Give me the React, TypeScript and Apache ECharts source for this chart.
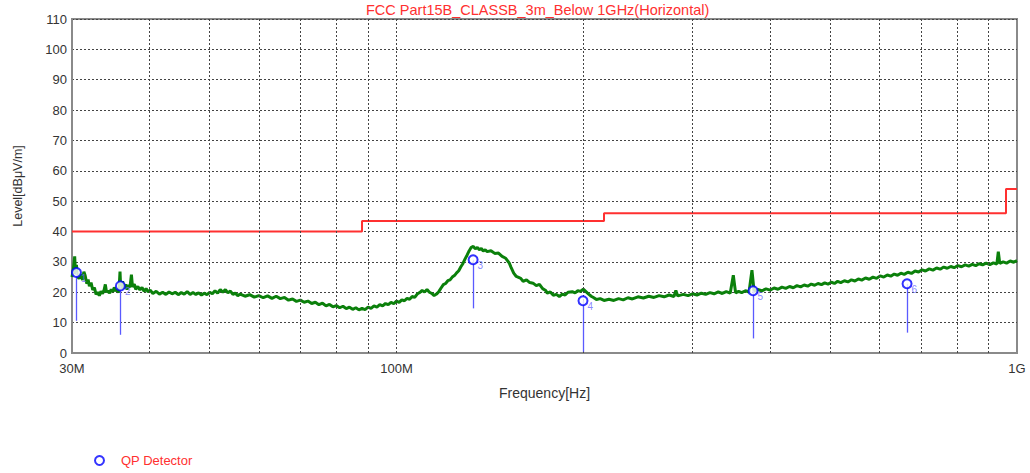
import React, { useEffect, useRef } from 'react';
import * as echarts from 'echarts';

const titleText = 'FCC Part15B_CLASSB_3m_Below 1GHz(Horizontal)';
const xAxisName = 'Frequency[Hz]';
const yAxisName = 'Level[dBμV/m]';
const legendName = 'QP Detector';
const xTickValues = [30, 100, 1000];
const xTickLabels = ['30M', '100M', '1G'];
const xGridValues = [40, 50, 60, 70, 80, 90, 100, 200, 300, 400, 500, 600, 700, 800, 900];

const limitLine = [
  [30, 40], [88, 40], [88, 43.5], [216, 43.5], [216, 46], [960, 46], [960, 54], [1000, 54],
];

const markerIds = ['1', '2', '3', '4', '5', '6'];
const markerFreq = [30.5, 35.9, 132.9, 199.8, 375.6, 665.0];
const markerLevel = [26.5, 22.1, 30.7, 17.2, 20.5, 22.8];
const markerStemLow = [10.6, 6.0, 14.7, 0.4, 4.8, 6.7];

const traceScan = [
  [30.0, 25.0], [30.15, 27.5], [30.3, 31.8], [30.4, 26.0], [30.5, 29.0], [30.6, 25.2], [30.8, 24.5], [31.0, 26.0],
  [31.2, 24.0], [31.35, 26.8], [31.5, 25.5], [31.7, 22.8], [31.85, 24.2], [32.0, 22.0], [32.2, 23.2], [32.4, 20.8],
  [32.6, 21.5], [32.8, 19.3], [33.0, 20.0], [33.2, 18.9], [33.4, 20.3], [33.6, 19.5], [33.8, 20.8], [33.95, 22.6],
  [34.1, 20.0], [34.3, 20.5], [34.5, 19.7], [34.7, 21.0], [34.9, 20.2], [35.1, 21.6], [35.3, 20.4], [35.5, 20.9],
  [35.7, 19.9], [35.85, 26.8], [35.95, 21.0], [36.2, 23.6], [36.4, 21.3], [36.6, 22.6], [36.8, 20.9], [37.0, 22.4],
  [37.2, 21.6], [37.4, 25.8], [37.55, 21.8], [37.8, 22.7], [38.0, 21.0], [38.3, 21.9], [38.6, 20.8], [38.9, 21.6],
  [39.2, 20.3], [39.5, 21.2], [39.8, 20.1], [40.1, 20.7], [40.5, 19.6], [41, 20.3], [41.5, 19.4], [42, 20.0],
  [42.5, 19.3], [43, 20.1], [43.5, 19.5], [44, 20.0], [44.5, 19.2], [45, 19.9], [45.5, 19.4], [46, 20.2],
  [46.5, 19.3], [47, 19.9], [47.5, 19.3], [48, 19.8], [48.5, 19.1], [49, 19.7], [49.5, 19.2], [50, 20.0],
  [50.5, 19.5], [51, 20.5], [51.5, 19.7], [52, 20.9], [52.5, 20.0], [53, 20.9], [53.5, 19.8], [54, 20.4],
  [54.5, 19.3], [55, 19.7], [55.5, 18.9], [56, 19.4], [57, 18.7], [58, 19.2], [59, 18.4], [60, 18.9],
  [61, 18.2], [62, 18.8], [63, 18.0], [64, 18.7], [65, 17.9], [66, 18.3], [67, 17.4], [68, 17.8],
  [69, 17.0], [70, 17.4], [71, 16.7], [72, 17.1], [73, 16.3], [74, 16.7], [75, 15.9], [76, 16.4],
  [77, 15.5], [78, 16.0], [79, 15.2], [80, 15.6], [81, 14.9], [82, 15.4], [83, 14.6], [84, 15.1],
  [85, 14.4], [86, 14.9], [87, 14.2], [88, 14.7], [89, 14.3], [90, 15.1], [91, 14.7], [92, 15.5],
  [93, 15.1], [94, 15.9], [95, 15.5], [96, 16.3], [97, 15.9], [98, 16.7], [99, 16.2], [100, 17.1],
  [101, 16.7], [102, 17.5], [103, 17.2], [104, 18.0], [105, 17.7], [106, 18.6], [107, 18.3], [108, 19.4],
  [109, 19.9], [110, 20.6], [111, 20.1], [112, 20.9], [113, 20.0], [114, 19.6], [115, 18.9], [116, 19.4],
  [117, 20.2], [118, 21.4], [119, 22.5], [120, 22.9], [121, 23.8], [122, 24.1], [123, 25.0], [124, 25.5],
  [125, 26.4], [126, 27.1], [127, 28.4], [128, 29.5], [129, 31.0], [130, 32.3], [131, 33.7], [132, 34.8],
  [133, 35.1], [134, 34.3], [135, 34.8], [136, 34.0], [137, 34.4], [138, 33.6], [139, 34.0], [140, 33.4],
  [142, 33.7], [144, 32.8], [146, 32.9], [148, 31.8], [150, 31.2], [152, 29.6], [153, 28.2], [154.5, 26.3],
  [156, 25.2], [158.6, 24.6], [160, 23.6], [162, 24.1], [164, 23.2], [166, 23.0], [168, 22.2], [170, 22.6],
  [172, 21.2], [174, 20.6], [175, 19.7], [177, 20.1], [179, 19.0], [181, 19.3], [183, 18.6], [185, 19.4],
  [187, 19.1], [189, 20.0], [192, 20.2], [194, 19.8], [196, 20.5], [198, 20.3], [200, 21.0], [202, 20.2],
  [204, 19.4], [206, 18.7], [208, 18.2], [210, 17.6], [213, 17.9], [216, 17.3], [220, 17.7], [224, 17.3],
  [228, 17.9], [232, 17.5], [236, 18.2], [240, 17.8], [245, 18.5], [250, 18.1], [255, 18.7], [260, 18.3],
  [265, 18.9], [270, 18.5], [275, 19.1], [280, 18.6], [282, 20.6], [284, 18.8], [290, 19.3], [295, 18.9],
  [300, 19.5], [305, 19.1], [310, 19.7], [315, 19.3], [320, 19.9], [325, 19.5], [330, 20.1], [335, 19.6],
  [340, 20.2], [345, 19.7], [349, 25.6], [352, 19.8], [356, 20.3], [360, 19.9], [365, 20.5], [370, 20.1],
  [374, 27.3], [377, 20.3], [382, 20.9], [388, 20.5], [394, 21.1], [400, 20.7], [406, 21.4], [412, 21.0],
  [418, 21.7], [424, 21.3], [430, 21.9], [436, 21.5], [442, 22.2], [448, 21.8], [454, 22.4], [460, 22.0],
  [466, 22.7], [472, 22.3], [478, 22.9], [484, 22.5], [490, 23.1], [496, 22.7], [502, 23.3], [508, 22.9],
  [514, 23.6], [520, 23.2], [527, 23.8], [534, 23.4], [541, 24.1], [548, 23.7], [555, 24.4], [562, 24.0],
  [570, 24.7], [578, 24.3], [586, 25.0], [594, 24.6], [602, 25.4], [610, 25.0], [618, 25.7], [626, 25.3],
  [634, 26.0], [642, 25.6], [650, 26.3], [658, 25.9], [667, 26.6], [676, 26.2], [685, 27.0], [694, 26.7],
  [703, 27.4], [712, 27.0], [722, 27.7], [732, 27.3], [742, 28.0], [752, 27.6], [762, 28.3], [772, 27.9],
  [782, 28.5], [792, 28.1], [803, 28.8], [814, 28.4], [825, 29.0], [836, 28.6], [847, 29.2], [858, 28.8],
  [869, 29.4], [880, 29.0], [892, 29.6], [904, 29.1], [916, 29.7], [928, 29.3], [933, 33.4], [938, 29.5],
  [950, 30.0], [962, 29.6], [975, 30.3], [988, 29.9], [1000, 30.4],
];

const FONT = 'Arial, "Liberation Sans", sans-serif';

export default function App() {
  const ref = useRef<HTMLDivElement>(null);
  useEffect(() => {
    if (!ref.current) return;
    const chart = echarts.init(ref.current, undefined, { renderer: 'svg' });
    const option: any = {
      animation: false,
      backgroundColor: '#ffffff',
      title: {
        text: titleText,
        left: 366,
        top: 2,
        padding: 0,
        textStyle: { color: '#ff3030', fontSize: 14.5, fontWeight: 'normal', fontFamily: FONT },
      },
      legend: {
        left: 89,
        top: 449,
        itemWidth: 9,
        itemHeight: 9,
        data: [{ name: legendName, icon: 'emptyCircle' }],
        textStyle: { color: '#ff3030', fontSize: 13, fontFamily: FONT, padding: [0, 0, 0, 12] },
      },
      grid: {
        left: 72,
        top: 19,
        width: 945,
        height: 334,
        show: true,
        borderColor: '#8a8a8a',
        borderWidth: 2,
        backgroundColor: 'transparent',
      },
      xAxis: {
        type: 'log',
        logBase: 10,
        min: 30,
        max: 1000,
        name: xAxisName,
        nameLocation: 'middle',
        nameGap: 33,
        nameTextStyle: { color: '#333', fontSize: 14, fontFamily: FONT },
        axisLine: { show: true, lineStyle: { color: '#8a8a8a', width: 2 } },
        axisTick: { show: false },
        splitLine: { show: false },
        minorSplitLine: { show: false },
        axisLabel: {
          customValues: xTickValues,
          color: '#333',
          fontSize: 13,
          fontFamily: FONT,
          margin: 9,
          formatter: (v: number) => {
            const i = xTickValues.findIndex((t) => Math.abs(t - v) < 1e-6);
            return i >= 0 ? xTickLabels[i] : '';
          },
        },
      },
      yAxis: {
        type: 'value',
        min: 0,
        max: 110,
        interval: 10,
        name: yAxisName,
        nameLocation: 'middle',
        nameGap: 48,
        nameTextStyle: { color: '#333', fontSize: 12.5, fontFamily: FONT },
        axisLine: { show: true, lineStyle: { color: '#8a8a8a', width: 2 } },
        axisTick: { show: false },
        axisLabel: { color: '#333', fontSize: 13, fontFamily: FONT, margin: 5 },
        splitLine: { show: true, lineStyle: { color: '#444', type: [2, 2], width: 1 } },
      },
      series: [
        {
          name: 'grid',
          type: 'line',
          data: [],
          z: 1,
          silent: true,
          markLine: {
            silent: true,
            symbol: 'none',
            animation: false,
            label: { show: false },
            lineStyle: { color: '#444', type: [2, 2], width: 1 },
            data: xGridValues.map((v) => ({ xAxis: v })),
          },
        },
        {
          name: 'limit',
          type: 'line',
          data: limitLine,
          showSymbol: false,
          symbol: 'none',
          z: 3,
          lineStyle: { color: '#ff3030', width: 2 },
        },
        {
          name: 'trace',
          type: 'line',
          data: traceScan,
          showSymbol: false,
          symbol: 'none',
          z: 4,
          lineStyle: { color: '#0b800b', width: 3 },
        },
        {
          name: legendName,
          type: 'scatter',
          z: 6,
          symbol: 'emptyCircle',
          symbolSize: 9,
          itemStyle: { color: '#0000ff', borderColor: '#0000ff', borderWidth: 2 },
          data: markerFreq.map((f, i) => ({
            value: [f, markerLevel[i]],
            label: {
              show: true,
              formatter: markerIds[i],
              position: [10, 6],
              color: '#6a6aff',
              fontSize: 10,
              fontFamily: FONT,
            },
          })),
          markLine: {
            silent: true,
            symbol: 'none',
            animation: false,
            label: { show: false },
            data: markerFreq.map((f, i) => [
              { coord: [f, markerLevel[i]], lineStyle: { color: '#5a5aff', type: 'solid', width: 1.3 } },
              { coord: [f, markerStemLow[i]] },
            ]),
          },
        },
      ],
    };
    chart.setOption(option);
    return () => chart.dispose();
  }, []);
  return (
    <div
      ref={ref}
      style={{ position: 'fixed', left: 0, top: 0, width: 1030, height: 473, background: '#fff' }}
    />
  );
}
